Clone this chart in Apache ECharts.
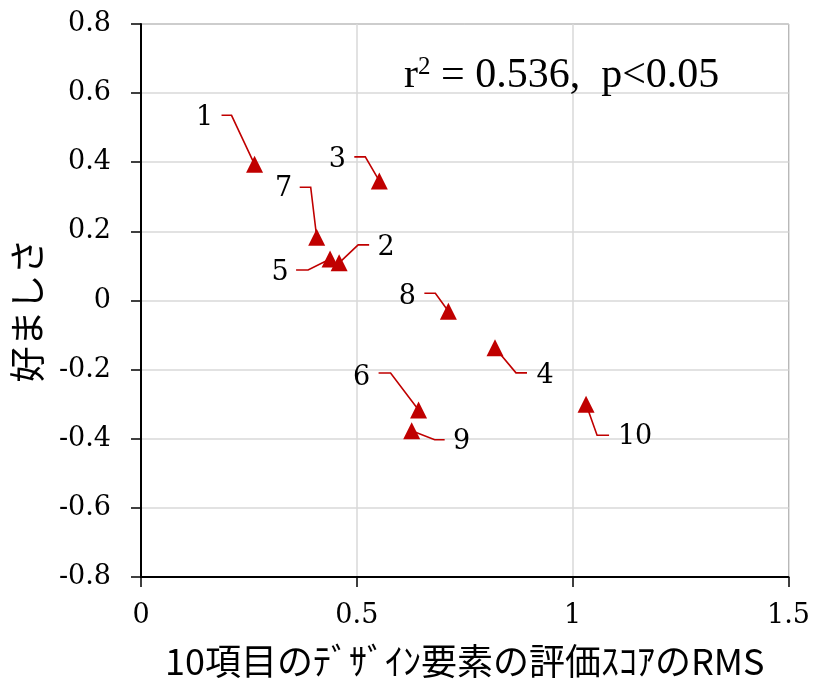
<!DOCTYPE html>
<html>
<head>
<meta charset="utf-8">
<script src="https://cdn.jsdelivr.net/npm/echarts@6/dist/echarts.min.js"></script>
<style>html,body{margin:0;padding:0;background:#fff;overflow:hidden;}#chart{width:813px;height:684px;}</style>
</head>
<body>
<div id="chart"></div>
<script>
// ---- data ----
const pointLabels = ['1','2','3','4','5','6','7','8','9','10'];
const rmsValues   = [0.263, 0.459, 0.552, 0.820, 0.438, 0.643, 0.407, 0.712, 0.627, 1.031];
const prefValues  = [0.394, 0.109, 0.346, -0.137, 0.120, -0.317, 0.183, -0.031, -0.377, -0.300];
const xTicks = [0, 0.5, 1, 1.5];
const yTicks = [-0.8, -0.6, -0.4, -0.2, 0, 0.2, 0.4, 0.6, 0.8];
const xTitle = '10項目のﾃﾞｻﾞｲﾝ要素の評価ｽｺｱのRMS';
const yTitle = '好ましさ';

// ---- leader-line / label placement (pixel offsets from each point) ----
const leaderOffsets = [
  {elbow:[-23,-49], end:[-33,-49], label:[-50,-46]},
  {elbow:[19,-18],  end:[30,-18],  label:[47,-15]},
  {elbow:[-14,-24], end:[-25,-24], label:[-42,-21]},
  {elbow:[21,25],   end:[32,25],   label:[50,28]},
  {elbow:[-22,11],  end:[-34,11],  label:[-50,14]},
  {elbow:[-28,-37], end:[-40,-37], label:[-57,-32]},
  {elbow:[-6,-50],  end:[-17,-50], label:[-33,-48]},
  {elbow:[-13,-18], end:[-24,-18], label:[-41,-14]},
  {elbow:[23,9],    end:[33,9],    label:[50,11]},
  {elbow:[11,31],   end:[23,31],   label:[49,33]}
];

const points = rmsValues.map((x, i) => [x, prefValues[i]]);
const RED = '#c00000';
const SERIF = '"DejaVu Serif", "Liberation Serif", serif';

const chart = echarts.init(document.getElementById('chart'), null, {renderer: 'canvas', width: 813, height: 684});
chart.setOption({
  animation: false,
  backgroundColor: '#fff',
  grid: {left: 141, right: 21, top: 24, bottom: 100, show: true, borderColor: '#595959', borderWidth: 1},
  xAxis: {
    type: 'value', min: xTicks[0], max: xTicks[xTicks.length-1], interval: 0.5,
    name: xTitle, nameLocation: 'middle', nameGap: 66,
    nameTextStyle: {fontFamily: '"Noto Sans CJK JP"', fontSize: 36, color: '#000'},
    axisLine: {show: true, onZero: false, lineStyle: {color: '#000', width: 2}},
    axisTick: {show: true, inside: false, length: 10, lineStyle: {color: '#000', width: 1.5}},
    axisLabel: {margin: 25, fontFamily: SERIF, fontSize: 27, color: '#000',
      formatter: v => String(v)},
    splitLine: {show: true, lineStyle: {color: '#d9d9d9', width: 1.5}}
  },
  yAxis: {
    type: 'value', min: yTicks[0], max: yTicks[yTicks.length-1], interval: 0.2,
    name: yTitle, nameLocation: 'middle', nameGap: 96, nameRotate: 90,
    nameTextStyle: {fontFamily: '"Noto Sans CJK JP"', fontSize: 36, color: '#000', padding: [0, 20, 0, 0]},
    axisLine: {show: true, onZero: false, lineStyle: {color: '#000', width: 2}},
    axisTick: {show: true, inside: false, length: 10, lineStyle: {color: '#000', width: 1.5}},
    axisLabel: {margin: 30, fontFamily: SERIF, fontSize: 27, color: '#000',
      formatter: v => String(Math.round(v * 10) / 10)},
    splitLine: {show: true, lineStyle: {color: '#d9d9d9', width: 1.5}}
  },
  graphic: [{
    type: 'text', left: 404, top: 55, z: 10,
    style: {
      text: '{b|r}{s|2}{b| = 0.536,  p<0.05}',
      rich: {
        b: {fontFamily: '"Liberation Serif", serif', fontSize: 42, fill: '#000', verticalAlign: 'bottom'},
        s: {fontFamily: '"Liberation Serif", serif', fontSize: 25, fill: '#000', verticalAlign: 'top', padding: [0,0,15,0]}
      }
    }
  }],
  series: [
    {
      type: 'custom', z: 2, silent: true,
      data: points,
      renderItem: function (params, api) {
        const i = params.dataIndex;
        const p = api.coord([api.value(0), api.value(1)]);
        const o = leaderOffsets[i];
        return {
          type: 'group',
          children: [
            {type: 'polyline',
             shape: {points: [[p[0], p[1]], [p[0]+o.elbow[0], p[1]+o.elbow[1]], [p[0]+o.end[0], p[1]+o.end[1]]]},
             style: {stroke: RED, lineWidth: 1.6, fill: null}},
            {type: 'text', x: p[0]+o.label[0], y: p[1]+o.label[1],
             style: {text: pointLabels[i], font: '27px ' + SERIF, fill: '#000', align: 'center', verticalAlign: 'middle'}}
          ]
        };
      }
    },
    {
      type: 'scatter', z: 3,
      symbol: 'triangle', symbolSize: 17,
      itemStyle: {color: RED, opacity: 1},
      data: points
    }
  ]
});
</script>
</body>
</html>
